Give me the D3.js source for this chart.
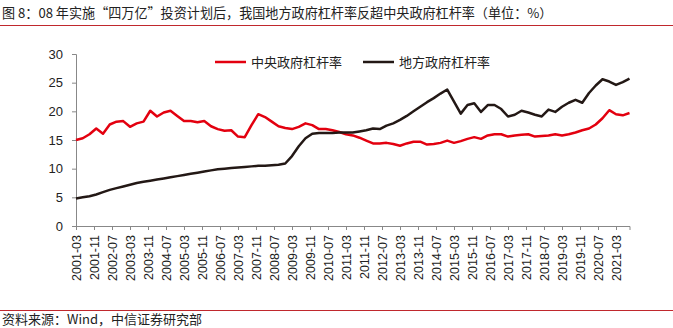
<!DOCTYPE html>
<html><head><meta charset="utf-8">
<script src="https://cdn.jsdelivr.net/npm/d3@7"></script>
<style>
html,body{margin:0;padding:0;background:#fff;}
svg{display:block;font-family:"Liberation Sans",Arial,sans-serif;}
.cjk{font-family:"Noto Sans CJK SC","Liberation Sans",sans-serif;}
</style></head>
<body><svg id="c" width="673" height="328"></svg>
<script>
const title = "图 8：08 年实施\u201c四万亿\u201d投资计划后，我国地方政府杠杆率反超中央政府杠杆率（单位：%）";
const source = "资料来源：Wind，中信证券研究部";
const seriesNames = ["中央政府杠杆率", "地方政府杠杆率"];
const startYear = 2001, startMonth = 3, stepMonths = 3; // quarterly from 2001-03
const central = [15.0,15.3,16.0,17.0,16.1,17.7,18.2,18.3,17.3,17.9,18.2,20.1,19.1,19.8,20.1,19.2,18.3,18.3,18.1,18.3,
17.4,16.9,16.6,16.7,15.6,15.5,17.6,19.5,19.0,18.2,17.4,17.1,16.9,17.3,17.9,17.6,16.9,16.9,16.7,16.4,
16.0,15.8,15.4,14.9,14.4,14.4,14.5,14.3,14.0,14.4,14.7,14.7,14.2,14.3,14.5,14.9,14.5,14.8,15.2,15.5,
15.2,15.8,16.0,16.0,15.6,15.8,15.9,16.0,15.6,15.7,15.8,16.0,15.8,16.0,16.3,16.7,17.0,17.7,18.8,20.2,
19.5,19.3,19.7];
const local = [4.8,5.0,5.2,5.5,5.9,6.3,6.6,6.9,7.2,7.5,7.7,7.9,8.1,8.3,8.5,8.7,8.9,9.1,9.3,9.5,
9.7,9.9,10.0,10.1,10.2,10.3,10.4,10.5,10.5,10.6,10.7,10.9,12.2,13.9,15.3,16.1,16.2,16.2,16.2,16.3,
16.3,16.3,16.5,16.7,17.0,16.9,17.5,17.9,18.5,19.2,20.0,20.8,21.6,22.3,23.1,23.8,21.7,19.6,21.1,21.4,
19.9,21.1,21.1,20.4,19.1,19.4,20.1,19.8,19.4,19.1,20.3,19.9,20.8,21.5,22.0,21.5,23.2,24.5,25.6,25.2,
24.6,25.1,25.7];
const yTicks = [0,5,10,15,20,25,30];
const xTickLabels = ["2001-03","2001-11","2002-07","2003-03","2003-11","2004-07","2005-03","2005-11","2006-07",
"2007-03","2007-11","2008-07","2009-03","2009-11","2010-07","2011-03","2011-11","2012-07","2013-03","2013-11",
"2014-07","2015-03","2015-11","2016-07","2017-03","2017-11","2018-07","2019-03","2019-11","2020-07","2021-03"];

const monthIdx = s => { const [y,m] = s.split("-").map(Number); return (y-startYear)*12 + (m-startMonth); };
const lastMonth = (central.length-1)*stepMonths;

const svg = d3.select("#c");
const L = 76, T = 54, B = 226;
const x = d3.scaleLinear().domain([0, lastMonth]).range([L, L + lastMonth*2.25]);
const y = d3.scaleLinear().domain([0, 30]).range([B, T]);

// title
svg.append("text").attr("class","cjk").attr("x",2).attr("y",18).attr("font-size",13.1).attr("fill","#222").text(title);
svg.append("line").attr("x1",0).attr("x2",673).attr("y1",25.5).attr("y2",25.5).attr("stroke","#c0282d").attr("stroke-width",1);
// source
svg.append("line").attr("x1",0).attr("x2",673).attr("y1",310.5).attr("y2",310.5).attr("stroke","#c0282d").attr("stroke-width",1);
svg.append("text").attr("class","cjk").attr("x",2).attr("y",324).attr("font-size",13).attr("fill","#222").text(source);

// y axis
const ya = svg.append("g").attr("transform",`translate(${L},0)`)
  .call(d3.axisLeft(y).tickValues(yTicks).tickSize(4).tickPadding(9).tickFormat(d3.format("d")));
ya.select(".domain").attr("stroke","#888");
ya.selectAll(".tick line").attr("stroke","#888");
ya.selectAll("text").attr("font-size",13).attr("fill","#222").attr("font-family","Liberation Sans, Arial, sans-serif");

// x axis
const xa = svg.append("g").attr("transform",`translate(0,${B})`)
  .call(d3.axisBottom(x).tickValues(xTickLabels.map(monthIdx)).tickSize(4).tickFormat((d,i)=>xTickLabels[i]));
xa.select(".domain").attr("stroke","#888");
xa.selectAll(".tick line").attr("stroke","#888");
xa.selectAll("text").attr("font-size",12.5).attr("fill","#222").attr("font-family","Liberation Sans, Arial, sans-serif")
  .attr("transform","rotate(-90)").attr("text-anchor","end").attr("x",-9).attr("y",0).attr("dy","0.35em");

// lines
const line = d3.line().x((d,i)=>x(i*stepMonths)).y(d=>y(d));
svg.append("path").datum(central).attr("d",line).attr("fill","none").attr("stroke","#e3000f").attr("stroke-width",2.5).attr("stroke-linejoin","round");
svg.append("path").datum(local).attr("d",line).attr("fill","none").attr("stroke","#231815").attr("stroke-width",2.5).attr("stroke-linejoin","round");

// legend
const legend = [{name:seriesNames[0], color:"#e3000f", x:215},{name:seriesNames[1], color:"#231815", x:363}];
legend.forEach(l=>{
  svg.append("line").attr("x1",l.x).attr("x2",l.x+31).attr("y1",62).attr("y2",62).attr("stroke",l.color).attr("stroke-width",2.5);
  svg.append("text").attr("class","cjk").attr("x",l.x+36).attr("y",66.5).attr("font-size",13).attr("fill","#222").text(l.name);
});
</script></body></html>
